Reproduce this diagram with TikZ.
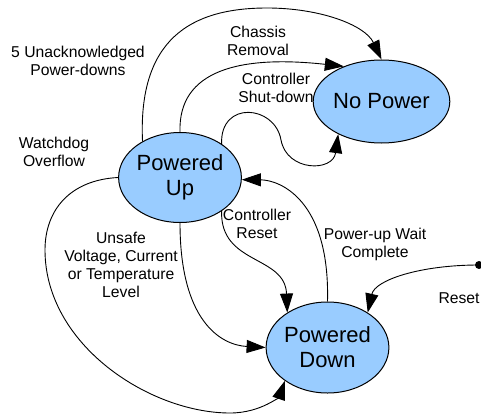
\documentclass[tikz,border=0pt]{standalone}
\usepackage{fontspec}
\setmainfont{Liberation Sans}
\usetikzlibrary{shapes.geometric,arrows.meta}
\definecolor{statefill}{HTML}{99CCFF}
\tikzset{
  state/.style={ellipse, draw=black, line width=1pt, fill=statefill, inner sep=0pt,
    align=center, font=\fontsize{22}{25}\selectfont},
  lbl/.style={align=center, inner sep=0pt, font=\fontsize{15.7}{18}\selectfont},
  arr/.style={line width=0.9pt, -{Triangle[length=19pt,width=13pt]}},
  dotnode/.style={circle, fill=black, inner sep=0pt, minimum size=8pt}
}
\begin{document}
\begin{tikzpicture}[x=1pt,y=-1pt]
\useasboundingbox (0,0) rectangle (481,417);
% states
\node[state, minimum width=113pt, minimum height=83pt] (np) at (381.5,101.5) {No Power};
\node[state, minimum width=114pt, minimum height=90pt] (pu) at (180,177.5) {Powered\\Up};
\node[state, minimum width=113pt, minimum height=91pt] (pd) at (327.5,347.5) {Powered\\Down};
\node[dotnode] (rs) at (479,265) {};
% edges
\draw[arr] (pu.136.8) .. controls (138,40) and (190,8) .. (267,8)
  .. controls (320,8) and (365,25) .. (np.90);
\draw[arr] (pu.90) .. controls (178,70) and (240,55) .. (np.137.9);
\draw[arr] (pu.39) .. controls (220,100) and (275,105) .. (281,140)
  .. controls (287,172) and (333,172) .. (np.217.7);
\draw[arr] (pu.180) .. controls (70,180) and (45,210) .. (45,250)
  .. controls (45,345) and (150,413) .. (230,413)
  .. controls (262,413) and (280,395) .. (pd.218.7);
\draw[arr] (pu.270) .. controls (180,320) and (220,345) .. (pd.180);
\draw[arr] (pu.321) .. controls (220,265) and (285,255) .. (pd.139.6);
\draw[arr] (pd.90) .. controls (330,200) and (280,180) .. (pu.358);
\draw[arr] (rs.center) .. controls (420,265) and (375,280) .. (pd.41.1);
% labels
\node[lbl] (l1) at (78,61) {5 Unacknowledged\\Power-downs};
\node[lbl] (l2) at (258,41) {Chassis\\Removal};
\node[lbl] (l3) at (276,88) {Controller\\Shut-down};
\node[lbl] (l4) at (54,151.5) {Watchdog\\Overflow};
\node[lbl] (l5) at (257,224) {Controller\\Reset};
\node[lbl] (l6) at (375,244) {Power-up Wait\\Complete};
\node[lbl] (l7) at (121,264.5) {Unsafe\\Voltage, Current\\or Temperature\\Level};
\node[lbl] (l8) at (459,298) {Reset};
\end{tikzpicture}
\end{document}
